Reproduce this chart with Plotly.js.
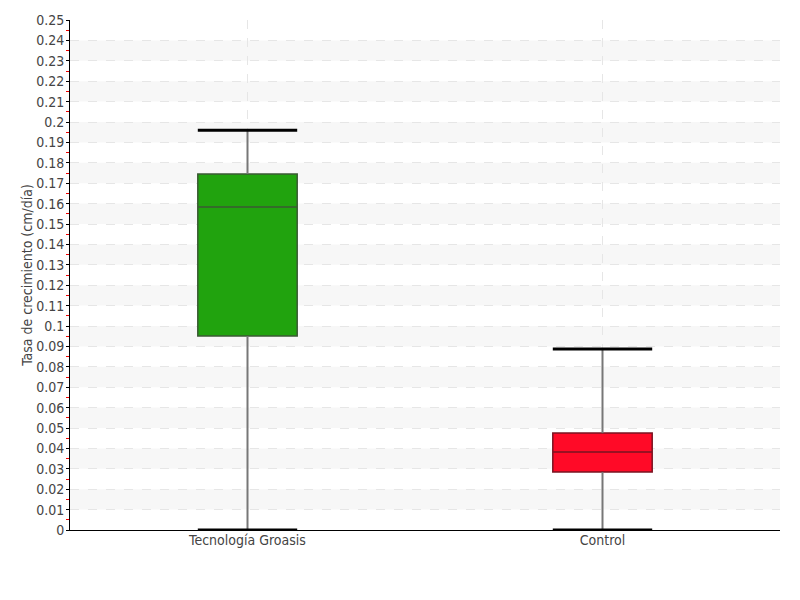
<!DOCTYPE html>
<html><head><meta charset="utf-8">
<script src="https://cdn.plot.ly/plotly-3.0.1.min.js"></script>
<style>body{margin:0;background:#fff}#chart{width:800px;height:600px}</style>
</head><body><div id="chart"></div>
<script>
const categories = ["Tecnología Groasis", "Control"];
const minVals = [0.0, 0.0];
const q1Vals = [0.0951, 0.0284];
const medianVals = [0.1583, 0.0382];
const q3Vals = [0.1745, 0.0475];
const maxVals = [0.196, 0.0887];
const fillColors = ["#21a30e", "#ff0a27"];
const lineColors = ["#3b5a34", "#7a1422"];
const yTicks = [0,0.01,0.02,0.03,0.04,0.05,0.06,0.07,0.08,0.09,0.1,0.11,0.12,0.13,0.14,0.15,0.16,0.17,0.18,0.19,0.2,0.21,0.22,0.23,0.24,0.25];

const boxW = 0.28;
const traces = [];
categories.forEach((c, i) => {
  traces.push({type:'scatter', mode:'lines', x:[i,i,null,i,i], y:[minVals[i],q1Vals[i],null,q3Vals[i],maxVals[i]],
    line:{color:'#777', width:2}, hoverinfo:'skip', showlegend:false});
  traces.push({type:'scatter', mode:'lines', x:[i-boxW/2,i+boxW/2,null,i-boxW/2,i+boxW/2], y:[minVals[i],minVals[i],null,maxVals[i],maxVals[i]],
    line:{color:'#000', width:3}, hoverinfo:'skip', showlegend:false, cliponaxis:false});
});
categories.forEach((c, i) => {
  traces.push({type:'box', x:[i], q1:[q1Vals[i]], median:[medianVals[i]], q3:[q3Vals[i]],
    lowerfence:[q1Vals[i]], upperfence:[q3Vals[i]], width:boxW, fillcolor:fillColors[i],
    line:{color:lineColors[i], width:1.5}, whiskerwidth:0, showlegend:false, name:c});
});

const shapes = [];
for (let k = 1; k < yTicks.length - 1; k += 2) {
  shapes.push({type:'rect', xref:'paper', yref:'y', x0:0, x1:1, y0:yTicks[k], y1:yTicks[k+1],
    fillcolor:'#f7f7f7', line:{width:0}, layer:'below'});
}

const font = {family:'"DejaVu Sans Condensed", "Liberation Sans Narrow", sans-serif', size:14, color:'#444'};
const layout = {
  width:800, height:600, margin:{l:70, r:20, t:20, b:70},
  paper_bgcolor:'#fff', plot_bgcolor:'#fff', font:font, showlegend:false,
  shapes:shapes,
  xaxis:{type:'linear', range:[-0.5,1.5], tickvals:categories.map((c,i)=>i), ticktext:categories,
    showline:true, linecolor:'#000', linewidth:1, ticks:'', showgrid:true, gridcolor:'#e6e6e6', griddash:'dash',
    zeroline:false, tickfont:font, ticklabelstandoff:-3, fixedrange:true},
  yaxis:{range:[0,0.25], tickvals:yTicks, ticktext:yTicks.map(v=>String(v)), showline:true, linecolor:'#000', linewidth:1,
    ticks:'outside', ticklen:3, tickcolor:'#000', showgrid:true, gridcolor:'#e6e6e6', griddash:'dash', zeroline:false,
    minor:{ticks:'outside', ticklen:3, tickcolor:'#e00', dtick:0.005, showgrid:false},
    ticklabelstandoff:-1,
    title:{text:'Tasa de crecimiento (cm/día)', font:font, standoff:0}, tickfont:font, fixedrange:true}
};
Plotly.newPlot('chart', traces, layout, {staticPlot:true});
</script></body></html>
